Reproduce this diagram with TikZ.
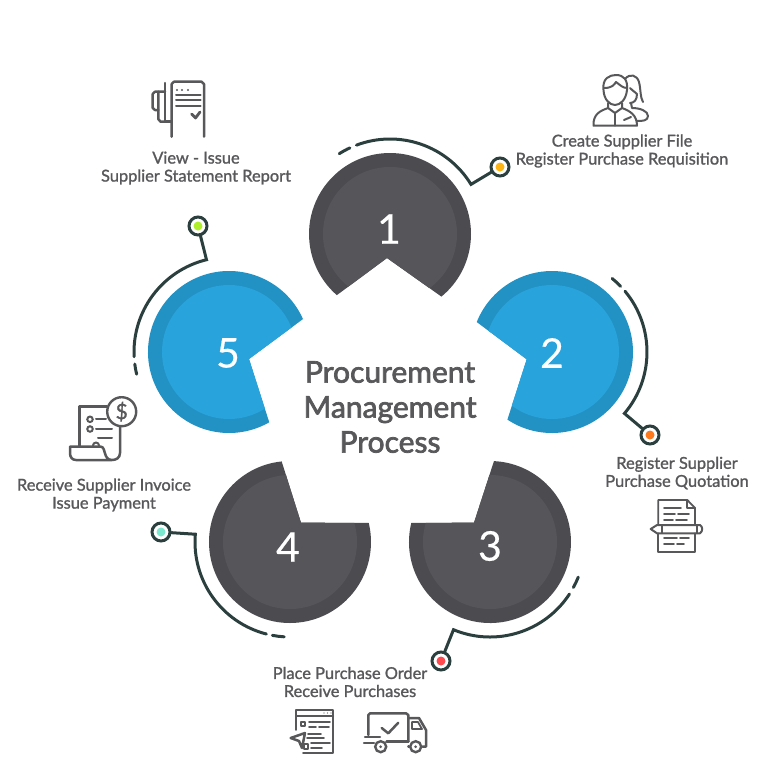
\documentclass[tikz,border=0pt]{standalone}
\usepackage{fontspec}
\setmainfont{Lato}
\newfontfamily\labfont[FakeBold=1.3]{Lato}
\newfontfamily\heavyfont[FakeBold=2.4]{Lato}
\newfontfamily\numfont[FakeBold=0.3]{Lato}
\definecolor{ink}{HTML}{58585B}
\definecolor{wire}{HTML}{2B403E}
\definecolor{grayo}{HTML}{4C4B4F}
\definecolor{grayi}{HTML}{565559}
\definecolor{blueo}{HTML}{2291C4}
\definecolor{bluei}{HTML}{29A3DB}
\definecolor{dota}{HTML}{FDB515}
\definecolor{dotb}{HTML}{FF7A1C}
\definecolor{dotc}{HTML}{FF4A4F}
\definecolor{dotd}{HTML}{7DE8D0}
\definecolor{dote}{HTML}{AEEE2A}
% center, start angle, end angle, notch point, two colours
\newcommand{\petal}[6]{
  \fill[#5] ([shift={(#2:81pt)}]#1) arc[start angle=#2,end angle=#3,radius=81pt] -- #4 -- cycle;
  \begin{scope}
    \clip ([shift={(#2:81pt)}]#1) arc[start angle=#2,end angle=#3,radius=81pt] -- #4 -- cycle;
    \fill[#6] (#1) circle (67pt);
  \end{scope}
}
\begin{document}
\begin{tikzpicture}[x=1pt,y=-1pt,font=\labfont,
  lab/.style={text=ink,align=center,inner sep=0pt,font=\labfont\fontsize{16.4}{18}\selectfont},
  num/.style={text=white,inner sep=0pt,font=\numfont\fontsize{41}{41}\selectfont},
  wire/.style={draw=wire,line width=3pt,line cap=round},
  dot/.style={circle,draw=wire,fill=white,line width=3pt,minimum size=18pt,inner sep=0pt},
  ic/.style={draw=ink,line width=2.5pt,line cap=round,line join=round},
  thin/.style={draw=ink,line width=1.8pt,line cap=round,line join=round}]
  \useasboundingbox (0,0) rectangle (780,780);
  \coordinate (c1) at (390,234);
  \coordinate (c2) at (552,352);
  \coordinate (c3) at (490,542);
  \coordinate (c4) at (290,542);
  \coordinate (c5) at (229,352);

  \petal{c1}{-50.6}{229}{(387,258)}{grayo}{grayi}
  \petal{c2}{-123.4}{158.3}{(526.7,359.3)}{blueo}{bluei}
  \petal{c3}{166.3}{447.2}{(474,522.7)}{grayo}{grayi}
  \petal{c4}{95.9}{373.7}{(301,522.7)}{grayo}{grayi}
  \petal{c5}{24}{299.8}{(249,359)}{blueo}{bluei}

  \node[num] (n1) at (389,229){1};
  \node[num] (n2) at (552,353){2};
  \node[num] (n3) at (490,546){3};
  \node[num] (n4) at (288,547){4};
  \node[num] (n5) at (228,353){5};

  \node[dot] (d1) at (500,167){};
  \node[dot] (d2) at (650,435){};
  \node[dot] (d3) at (441,661){};
  \node[dot] (d4) at (161,532){};
  \node[dot] (d5) at (198,226){};
  \fill[dota] (d1) circle (4.5pt);
  \fill[dotb] (d2) circle (4.5pt);
  \fill[dotc] (d3) circle (4.5pt);
  \fill[dotd] (d4) circle (4.5pt);
  \fill[dote] (d5) circle (4.5pt);

  \coordinate (s1) at ([shift={(110.7:95pt)}]c1);
  \coordinate (s2) at ([shift={(39.8:95pt)}]c2);
  \coordinate (s3) at ([shift={(-33.2:95pt)}]c3);
  \coordinate (s4) at ([shift={(255.6:95pt)}]c4);
  \coordinate (s5) at ([shift={(182.8:95pt)}]c5);
  \draw[wire] (s1) arc[start angle=110.7,end angle=31.5,radius=95pt] -- (d1);
  \draw[wire] (s2) arc[start angle=39.8,end angle=-40.3,radius=95pt] -- (d2);
  \draw[wire] (s3) arc[start angle=-33.2,end angle=-112.6,radius=95pt] -- (d3);
  \draw[wire] (s4) arc[start angle=255.6,end angle=175.3,radius=95pt] -- (d4);
  \draw[wire] (s5) arc[start angle=182.8,end angle=103.7,radius=95pt] -- (d5);
  \draw[wire] ([shift={(122.3:95pt)}]c1) arc[start angle=122.3,end angle=115,radius=95pt];
  \draw[wire] ([shift={(50.7:95pt)}]c2) arc[start angle=50.7,end angle=43.7,radius=95pt];
  \draw[wire] ([shift={(-21.7:95pt)}]c3) arc[start angle=-21.7,end angle=-28.6,radius=95pt];
  \draw[wire] ([shift={(259.3:95pt)}]c4) arc[start angle=259.3,end angle=266.5,radius=95pt];
  \draw[wire] ([shift={(187.3:95pt)}]c5) arc[start angle=187.3,end angle=193.5,radius=95pt];

  \node[text=ink,align=center,inner sep=0pt,font=\heavyfont\fontsize{30}{35}\selectfont] (title) at (390,407){Procurement\\Management\\Process};
  \node[lab] (t1) at (622,151){Create Supplier File\\Register Purchase Requisition};
  \node[lab] (t2) at (677,473){Register Supplier\\Purchase Quotation};
  \node[lab] (t3) at (350,682){Place Purchase Order\\Receive Purchases};
  \node[lab] (t4) at (104,495){Receive Supplier Invoice\\Issue Payment};
  \node[lab] (t5) at (196,168){View - Issue\\Supplier Statement Report};

  % icons
  % statement
  \draw[ic] (171.7,136.7) -- (171.7,84) to[bend left=30] (174,81.7) -- (201.5,81.7) to[bend left=30] (204,84) -- (204,136.7);
  \draw[ic] (165,83) -- (165,121.7) -- (171.7,121.7);
  \draw[ic] (165,91.7) -- (155,91.7) to[bend right=30] (152.7,94) -- (152.7,108) to[bend right=30] (155,110) -- (158.3,110);
  \draw[ic] (158.3,91.7) -- (158.3,119) to[bend right=30] (160.5,121.7) -- (165,121.7);
  \foreach \yy in {95,100,105.7}{\draw[ic,line width=2pt] (176,\yy) -- (200.7,\yy);}
  \foreach \xx in {177,182,188}{\fill[ink] (\xx,90) circle (1.2pt);}
  \draw[ic,line width=2.8pt] (191.7,114) -- (195.5,118) -- (200,112);
  % people
  \draw[ic,line width=2pt] (603.5,90) .. controls (602,78) and (610,75) .. (616,75) .. controls (624,75) and (628,80) .. (627,90) .. controls (626,100) and (620,105) .. (615,105) .. controls (610,105) and (604,100) .. (603.5,90);
  \draw[ic,line width=2pt] (604,88) .. controls (612,88) and (614,85) .. (616,82) .. controls (620,85) and (623,88) .. (627,88);
  \draw[ic,line width=2pt] (608,103) -- (608,108) .. controls (600,111) and (593,114) .. (593.5,125.7) -- (637,125.7) .. controls (637,115) and (630,111) .. (622,108) -- (622,103);
  \draw[ic,line width=2pt] (608,108) -- (615,113) -- (622,108);
  \draw[ic,line width=2pt] (615,113) -- (615,125.7);
  \draw[ic,line width=2pt] (624,120) -- (631,117);
  \draw[ic,line width=2pt] (625,79) .. controls (630,73) and (637,75) .. (639,82) .. controls (641,90) and (640,97) .. (643,102);
  \draw[ic,line width=2pt] (630,88) .. controls (633,91) and (635,92) .. (637,94) .. controls (637,100) and (634,103) .. (630,103);
  \draw[ic,line width=2pt] (631,103) -- (632,108) .. controls (640,108) and (648,111) .. (648,116) .. controls (648,121) and (642,121) .. (637,121);
  % pencil doc
  \draw[thin] (695,525) -- (695,508) -- (687.3,500) -- (658.3,500) -- (658.3,525);
  \draw[thin] (658.3,533.3) -- (658.3,551.7) -- (695,551.7) -- (695,533.3);
  \draw[thin] (687.3,500) -- (687.3,508) -- (695,508);
  \draw[thin] (664,508) -- (681,508) (664,514) -- (675,514) (678,514) -- (689,514) (664,520) -- (673,520) (676,520) -- (687,520);
  \draw[thin] (664,538) -- (677,538) (680,538) -- (689,538) (664,544) -- (674,544) (677,544) -- (684,544);
  \draw[ic,line width=2pt] (650.7,529) -- (657,525) -- (700,525) .. controls (703,527) and (703,531) .. (700,533.3) -- (657,533.3) -- cycle;
  \draw[thin] (662,525) -- (662,533.3) (697,525) -- (697,533.3);
  % order window
  \draw[thin] (296,730) -- (296,710) -- (333.3,710) -- (333.3,753.3) -- (303,753.3);
  \draw[thin] (296,716) -- (333.3,716);
  \foreach \xx in {325,328.5,332}{\fill[ink] (\xx-1,713) circle (0.7pt);}
  \draw[thin] (301,722) rectangle (305,726);
  \draw[thin] (309,722) -- (330,722) (309,727) -- (316,727) (319,727) -- (329,727) (308,734) -- (321,734) (307,738) -- (324,738) (311,743) -- (330,743) (311,748) -- (322,748);
  \draw[ic] (290.7,738) -- (305,733) -- (302,748) -- (299,741) -- cycle;
  \draw[thin] (304,744) rectangle (308,749);
  % truck
  \draw[ic] (368.3,735) -- (368.3,715) to[bend left=30] (370,713.3) -- (406,713.3) to[bend left=30] (408.3,715) -- (408.3,741.7);
  \draw[ic] (408.3,718) -- (419,718) -- (426,730) -- (426,746.7) -- (422.5,746.7);
  \draw[thin] (412,722) -- (418,722) -- (422,729) -- (412,729) -- cycle;
  \draw[ic] (386.5,741.7) -- (408.3,741.7) (408.3,746.7) -- (409,746.7);
  \draw[ic] (381.7,728) -- (388.3,733.3) -- (398.3,722.7);
  \draw[ic] (365,737) -- (380,737) (364,743) -- (374,743);
  \node[circle,draw=ink,line width=2.4pt,minimum size=11pt,inner sep=0pt] (w1) at (380.7,746.7){};
  \node[circle,draw=ink,line width=2.4pt,minimum size=11pt,inner sep=0pt] (w2) at (415.7,746.7){};
  \fill[ink] (w1) circle (1.5pt) (w2) circle (1.5pt);
  % invoice
  \draw[ic] (79.3,446.7) -- (79.3,406.7) -- (107,406.7);
  \draw[ic] (120,426) -- (120,453) .. controls (120,458) and (116,460) .. (112,460) -- (76,460) .. controls (72,460) and (70,457) .. (70,453) -- (70,446.7) -- (101,446.7) .. controls (106,447) and (103,460) .. (112,460);
  \node[circle,draw=ink,line width=2.4pt,minimum size=29pt,inner sep=0pt,text=ink,font=\labfont\fontsize{21}{21}\selectfont] (coin) at (121.7,411.7){\$};
  \node[circle,draw=ink,line width=2pt,minimum size=5.5pt,inner sep=0pt] (b1) at (90,419.3){};
  \node[circle,draw=ink,line width=2pt,minimum size=5.5pt,inner sep=0pt] (b2) at (90,429){};
  \draw[ic,line width=2pt] (93,445.5) arc[start angle=180,end angle=0,radius=3pt];
  \draw[ic,line width=2pt] (96,419.3) -- (106,419.3) (96,429) -- (112,429) (98,438) -- (112,438);
\end{tikzpicture}
\end{document}
